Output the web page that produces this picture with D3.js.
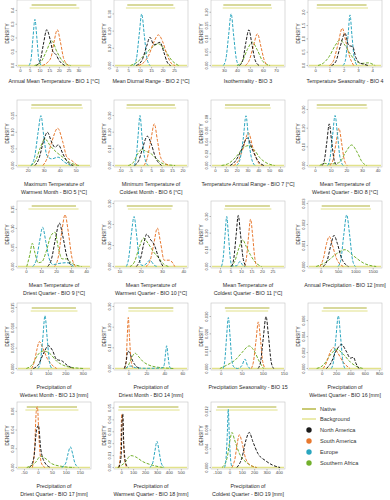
<!DOCTYPE html>
<html><head><meta charset="utf-8">
<script src="https://cdn.jsdelivr.net/npm/d3@7"></script>
<style>body{margin:0;background:#fff}svg{display:block}text{font-family:"Liberation Sans",Arial,sans-serif}</style>
</head><body><svg id="c" width="390" height="500"></svg>
<script>
const titles = [
 ["Annual Mean Temperature - BIO 1 [°C]"],
 ["Mean Diurnal Range - BIO 2 [°C]"],
 ["Isothermality - BIO 3"],
 ["Temperature Seasonality - BIO 4"],
 ["Maximum Temperature of","Warmest Month - BIO 5 [°C]"],
 ["Minimum Temperature of","Coldest Month - BIO 6 [°C]"],
 ["Temperature Annual Range - BIO 7 [°C]"],
 ["Mean Temperature of","Wettest Quarter - BIO 8 [°C]"],
 ["Mean Temperature of","Driest Quarter - BIO 9 [°C]"],
 ["Mean Temperature of","Warmest Quarter - BIO 10 [°C]"],
 ["Mean Temperature of","Coldest Quarter - BIO 11 [°C]"],
 ["Annual Precipitation - BIO 12 [mm]"],
 ["Precipitation of","Wettest Month - BIO 13 [mm]"],
 ["Precipitation of","Driest Month - BIO 14 [mm]"],
 ["Precipitation Seasonality - BIO 15"],
 ["Precipitation of","Wettest Quarter - BIO 16 [mm]"],
 ["Precipitation of","Driest Quarter - BIO 17 [mm]"],
 ["Precipitation of","Warmest Quarter - BIO 18 [mm]"],
 ["Precipitation of","Coldest Quarter - BIO 19 [mm]"]
];
const xDomains = [[-1.5,36.5],[-1.2,31.1],[20,77],[-0.5,4.68],[13.3,59.6],[-12.9,22.7],[-3.7,64.6],[-4.5,42.8],[-6,43.3],[7.5,42.2],[-4.3,31],[-366,1768],[-79,348],[-15.9,66.3],[-23,153],[-191,841],[-75,190],[-60,560],[-150,450]];
const xTicks = [[0,5,10,15,20,25,30],[0,5,10,15,20,25],[30,40,50,60,70],[0,1,2,3,4],[20,30,40,50],[-10,-5,0,5,10,15,20],[0,10,20,30,40,50,60],[0,10,20,30,40],[0,10,20,30,40],[10,20,30,40],[0,5,10,15,20,25],[0,500,1000,1500],[0,100,200,300],[0,20,40,60],[0,50,100,150],[0,200,400,600,800],[-50,0,50,100,150],[0,100,200,300,400,500],[-100,0,100,200,300,400]];
const yTops = [0.476,0.381,0.246,2.46,0.197,0.393,0.112,0.351,0.172,0.312,0.393,0.00312,0.0161,0.317,0.0378,0.0082,0.07,0.055,0.014];
const yTicks = [[0,0.1,0.2,0.3,0.4],[0,0.1,0.2,0.3],[0,0.05,0.1,0.15,0.2],[0,0.5,1,1.5,2],[0,0.05,0.1,0.15],[0,0.1,0.2,0.3],[0,0.02,0.04,0.06,0.08],[0,0.1,0.2,0.3],[0,0.05,0.1,0.15],[0,0.1,0.2,0.3],[0,0.1,0.2,0.3],[0,0.001,0.002,0.003],[0,0.005,0.01,0.015],[0,0.1,0.2,0.3],[0,0.01,0.02,0.03],[0,0.002,0.004,0.006],[0,0.02,0.04,0.06],[0,0.01,0.02,0.03,0.04,0.05],[0,0.004,0.008,0.012]];
const yDecimals = [1,2,2,1,2,2,2,2,2,2,2,3,3,2,3,3,2,2,3];
const nativeRanges = [[6,29],[4.6,24.7],[29.5,66.3],[0.12,3.6],[22.3,53.8],[-6.8,16.4],[9.2,50.8],[1.1,33],[3.8,33.3],[13.5,35],[2.4,23.8],[29,1422],[6,261],[0,50],[10,116],[23,628],[-40,140],[-20,480],[-100,380]];
const backgroundRanges = [[5,30.5],[4,25.5],[29,67],[0.1,3.7],[22,54.5],[-7,17],[9,51.5],[1,33.5],[1.6,35],[14,34.5],[2,24.5],[0,1450],[0,270],[0,50],[12,113],[0,640],[-45,145],[-25,490],[-110,390]];

const seriesNames = ["North America","South America","Europe","Southern Africa"];
const seriesColors = ["#1b1b1b","#e8782e","#2aa6bf","#72b02c"];
const nativeColor = "#b2b43a", backgroundColor = "#e2e28a";

const northAmerica = [
 [[8.5,0],[10.5,0.04],[12,0.15],[13.8,0.26],[15.5,0.19],[17,0.1],[18.5,0.08],[20,0.04],[23,0]],
 [[8.5,0],[11,0.03],[13,0.11],[14.5,0.164],[16.2,0.12],[18.9,0.135],[20.5,0.08],[22,0.02],[23.5,0]],
 [[42,0],[44.5,0.02],[46.8,0.085],[49.2,0.134],[51.5,0.08],[54,0.02],[57,0]],
 [[1.15,0],[1.45,0.15],[1.75,0.7],[2.09,1.21],[2.35,0.75],[2.63,0.71],[2.85,0.3],[3.1,0.1],[3.4,0.05],[3.7,0]],
 [[24.5,0],[27,0.02],[30,0.075],[32.3,0.1],[35,0.07],[37,0.055],[39.2,0.062],[42,0.035],[45,0.01],[48.5,0]],
 [[-3,0],[-1,0.03],[1,0.11],[3.1,0.176],[5,0.13],[7,0.05],[10,0]],
 [[14,0],[19,0.008],[24,0.025],[29.8,0.047],[35,0.025],[40,0.007],[45,0]],
 [[4.5,0],[6,0.03],[7.6,0.13],[9.1,0.223],[10.6,0.13],[12.2,0.03],[14,0]],
 [[14.5,0],[17,0.02],[19.5,0.07],[22.2,0.114],[24.5,0.08],[27,0.03],[30.5,0]],
 [[18,0],[20,0.04],[21.5,0.11],[22.8,0.154],[24.5,0.13],[26.5,0.1],[28.5,0.04],[30.5,0]],
 [[5.5,0],[6.6,0.05],[7.7,0.19],[8.7,0.306],[9.8,0.19],[11,0.05],[12.5,0]],
 [[70,0],[190,0.0003],[290,0.001],[384,0.00148],[480,0.0011],[600,0.0004],[800,0]],
 [[15,0],[45,0.001],[75,0.0038],[101.6,0.0056],[125,0.0045],[150,0.0022],[179,0.0019],[210,0.0008],[246,0]],
 [[-4.5,0],[-2.5,0.03],[-0.5,0.085],[2,0.07],[5,0.035],[9,0.01],[13,0]],
 [[89,0],[95,0.004],[101.5,0.018],[107.9,0.03],[114,0.018],[120,0.004],[126,0]],
 [[65,0],[130,0.0007],[200,0.0022],[279,0.003],[340,0.0022],[400,0.0013],[442,0.0014],[480,0.0006],[520,0]],
 [[-30,0],[-15,0.01],[-5,0.04],[2,0.045],[10,0.02],[25,0.005],[45,0]],
 [[-20,0],[0,0.01],[8,0.04],[14,0.045],[22,0.02],[40,0.003],[60,0]],
 [[60,0],[100,0.002],[135,0.006],[160,0.0075],[190,0.0055],[230,0.003],[290,0.0015],[350,0.0005],[410,0]]
];
const southAmerica = [
 [[11.5,0],[14,0.02],[16,0.06],[17.5,0.17],[19.2,0.26],[20.8,0.17],[22.5,0.05],[25,0]],
 [[9.5,0],[12,0.02],[14,0.06],[16,0.13],[18.2,0.178],[20,0.14],[22,0.06],[24,0.01],[25.5,0]],
 [[46.5,0],[49.5,0.02],[52.5,0.07],[55.8,0.119],[58.5,0.07],[61,0.02],[63.5,0]],
 [[1.0,0],[1.3,0.2],[1.6,0.8],[1.9,1.4],[2.15,0.9],[2.4,0.35],[2.7,0]],
 [[29.5,0],[32,0.02],[35,0.07],[38.75,0.112],[42,0.07],[44.5,0.025],[47.5,0.015],[51,0]],
 [[1.5,0],[3,0.04],[4.8,0.15],[6.5,0.25],[8,0.15],[9.5,0.05],[11.5,0.015],[14,0]],
 [[17,0],[21.5,0.008],[26,0.03],[30.8,0.056],[35,0.03],[39,0.008],[43,0]],
 [[9.5,0],[11.5,0.03],[13.4,0.12],[15.3,0.2],[17,0.12],[18.7,0.03],[20.5,0]],
 [[19,0],[21.5,0.025],[23.8,0.09],[26,0.136],[28.2,0.09],[30.5,0.025],[33,0]],
 [[22.5,0],[24.5,0.03],[26.2,0.11],[27.8,0.183],[29.4,0.11],[31,0.03],[33.5,0.03],[36,0]],
 [[11.7,0],[12.6,0.05],[13.6,0.18],[14.6,0.284],[15.6,0.18],[16.6,0.05],[17.6,0]],
 [[-20,0],[80,0.0004],[170,0.0011],[249,0.00143],[340,0.001],[450,0.0004],[650,0]],
 [[5,0],[20,0.0015],[35,0.0045],[50,0.0066],[70,0.005],[95,0.0025],[120,0.001],[150,0]],
 [[-4,0],[-2.5,0.03],[-1.2,0.15],[0,0.247],[1.2,0.16],[2.8,0.05],[4.5,0.01],[6,0]],
 [[73,0],[78,0.004],[84,0.016],[89.6,0.0269],[95,0.016],[100,0.004],[106,0]],
 [[20,0],[70,0.0008],[120,0.0021],[163,0.0026],[220,0.002],[300,0.0008],[395,0]],
 [[-20,0],[-12,0.02],[-6,0.06],[-2,0.065],[4,0.03],[12,0.005],[25,0]],
 [[-20,0],[-5,0.015],[5,0.045],[12,0.04],[25,0.01],[45,0]],
 [[20,0],[45,0.002],[65,0.0055],[80,0.007],[100,0.0055],[130,0.002],[170,0.0005],[220,0]]
];
const europe = [
 [[4.7,0],[5.7,0.045],[6.7,0.2],[7.7,0.335],[8.7,0.2],[9.7,0.045],[11,0]],
 [[7.4,0],[8.6,0.04],[9.8,0.18],[10.9,0.3],[12,0.18],[13.2,0.04],[14.5,0]],
 [[29.5,0],[31.5,0.025],[33.5,0.11],[35.5,0.194],[37.5,0.11],[39.5,0.025],[41.5,0]],
 [[1.95,0],[2.12,0.2],[2.3,1.1],[2.44,1.9],[2.58,1.1],[2.75,0.25],[2.95,0]],
 [[22,0],[24.5,0.03],[26.5,0.1],[28.3,0.15],[30,0.09],[32,0.03],[35,0.02],[39,0.025],[43,0.01],[47,0]],
 [[-3.2,0],[-2.2,0.05],[-1.3,0.18],[-0.4,0.3],[0.6,0.17],[1.8,0.05],[3.5,0]],
 [[20,0],[23,0.01],[26,0.045],[28.6,0.085],[31,0.045],[34,0.01],[37,0]],
 [[8,0],[9.6,0.04],[11.2,0.16],[12.8,0.268],[14.4,0.16],[16,0.04],[18,0]],
 [[4.5,0],[7,0.02],[9,0.065],[11.1,0.103],[13.2,0.065],[15.5,0.02],[18,0.005],[22,0.008],[27,0.01],[32,0]],
 [[13.3,0],[14.4,0.04],[15.6,0.15],[16.9,0.238],[18.1,0.15],[19.3,0.04],[20.6,0.005],[22,0.008],[24.3,0.03],[26.5,0.005],[28,0]],
 [[0.7,0],[1.5,0.05],[2.4,0.19],[3.2,0.3],[4,0.19],[4.9,0.05],[5.7,0.003],[8,0.005],[9.5,0.03],[11,0.005],[12,0]],
 [[500,0],[580,0.0003],[665,0.0015],[750,0.00246],[835,0.0015],[920,0.0003],[1000,0]],
 [[42,0],[55,0.0015],[69,0.007],[82.5,0.013],[96,0.007],[109,0.0015],[122,0]],
 [[-3,0],[2,0.012],[8,0.004],[20,0.001],[36,0.002],[38.5,0.005],[40,0.02],[41.3,0.07],[42.6,0.11],[43.9,0.07],[45.3,0.02],[47,0]],
 [[6,0],[10,0.005],[14,0.018],[18.3,0.0294],[22.5,0.018],[26.5,0.005],[31,0.001],[40,0],[50,0.0015],[57.9,0.0054],[64,0.0015],[70,0]],
 [[135,0],[165,0.0009],[198,0.0038],[232,0.0066],[265,0.0038],[295,0.0009],[325,0]],
 [[85,0],[100,0.005],[108,0.015],[116,0.022],[124,0.015],[132,0.005],[145,0]],
 [[240,0],[265,0.004],[283,0.014],[300,0.022],[317,0.014],[335,0.004],[360,0]],
 [[-40,0],[-28,0.002],[-18,0.007],[-10,0.0125],[-2,0.007],[8,0.002],[20,0]]
];
const southernAfrica = [
 [[7.5,0],[10.5,0.02],[13.5,0.1],[16.3,0.18],[19,0.1],[22,0.03],[26,0]],
 [[6,0],[9,0.02],[12,0.06],[15,0.1],[18.2,0.126],[21,0.09],[24,0.03],[27,0]],
 [[40,0],[44,0.015],[48,0.06],[51.8,0.0875],[55.5,0.06],[60,0.015],[65.5,0]],
 [[0.2,0],[0.6,0.1],[1.0,0.35],[1.4,0.75],[1.74,0.96],[2.1,0.75],[2.5,0.4],[2.9,0.15],[3.3,0.08],[3.7,0.1],[4.2,0]],
 [[22,0],[25,0.015],[28,0.055],[30.8,0.08],[34,0.06],[38,0.04],[42,0.025],[46,0.01],[52,0]],
 [[-6,0],[-3.5,0.02],[-1.5,0.07],[0.4,0.096],[2.5,0.085],[5,0.07],[7.5,0.04],[10,0.015],[13,0.005],[16.5,0]],
 [[6,0],[13,0.004],[20,0.016],[26,0.03],[30.8,0.034],[36,0.027],[42,0.012],[48,0.004],[55,0]],
 [[3,0],[6,0.012],[9,0.008],[13,0.01],[16,0.02],[19.5,0.07],[23.4,0.11],[27,0.07],[30,0.02],[33,0]],
 [[0.5,0],[2.5,0.03],[4.2,0.061],[6,0.035],[8,0.01],[10.5,0.012],[13.5,0.04],[16.5,0.08],[19.3,0.09],[21.5,0.05],[24,0.02],[27,0.02],[30,0.01],[37,0]],
 [[15,0],[17,0.02],[19.3,0.09],[21.3,0.135],[23.5,0.11],[26,0.07],[28.5,0.04],[31,0.01],[33,0]],
 [[4.8,0],[7,0.03],[9,0.11],[10.8,0.16],[12.5,0.12],[14.5,0.07],[16.5,0.03],[19.8,0]],
 [[-130,0],[150,0.0002],[450,0.0006],[702,0.0008],[950,0.0005],[1250,0.00015],[1600,0]],
 [[-25,0],[10,0.001],[40,0.0033],[73,0.0043],[110,0.0037],[150,0.0018],[200,0.0006],[250,0.0002],[305,0]],
 [[-3,0],[0,0.015],[4,0.055],[7.4,0.074],[11,0.06],[16,0.035],[22,0.018],[30,0.008],[40,0.003],[50,0]],
 [[-2,0],[15,0.002],[35,0.005],[50,0.009],[68,0.013],[80,0.01],[92,0.004],[102,0]],
 [[-70,0],[30,0.0005],[120,0.0017],[209,0.0024],[300,0.0018],[400,0.0008],[500,0.0002],[580,0]],
 [[-40,0],[-10,0.005],[10,0.012],[25,0.01],[50,0.004],[90,0.001],[130,0]],
 [[-30,0],[30,0.004],[80,0.01],[120,0.009],[180,0.005],[260,0.002],[350,0]],
 [[-60,0],[-20,0.002],[5,0.006],[20,0.0075],[40,0.006],[80,0.003],[140,0.001],[220,0]]
];
const seriesData = [northAmerica, southAmerica, europe, southernAfrica];

const colLeft = [17,114,211,308], plotW = 74, plotH = 67;
const rowBottom = [67,167,268,370,469];

const svg = d3.select("#c");
const line = d3.line().curve(d3.curveMonotoneX);

titles.forEach((t,i)=>{
  const c=i%4, r=Math.floor(i/4);
  const L=colLeft[c], B=rowBottom[r], T=B-plotH;
  const x=d3.scaleLinear().domain(xDomains[i]).range([L,L+plotW]);
  const y=d3.scaleLinear().domain([0,yTops[i]]).range([B-1.5,T]);
  const g=svg.append("g");
  g.append("rect").attr("x",L).attr("y",T).attr("width",plotW).attr("height",plotH)
    .attr("fill","none").attr("stroke","#c2c2c2").attr("stroke-width",0.6);
  g.append("path").attr("d",line([[x(xDomains[i][0])+1,y(0)],[x(xDomains[i][1])-1,y(0)]]))
    .attr("stroke",backgroundColor).attr("stroke-width",1.5).attr("fill","none");
  g.append("line").attr("x1",x(nativeRanges[i][0])).attr("x2",x(nativeRanges[i][1]))
    .attr("y1",T+5).attr("y2",T+5).attr("stroke",nativeColor).attr("stroke-width",1.2);
  g.append("line").attr("x1",x(backgroundRanges[i][0])).attr("x2",x(backgroundRanges[i][1]))
    .attr("y1",T+8).attr("y2",T+8).attr("stroke",backgroundColor).attr("stroke-width",1.2);
  [3,1,2,0].forEach(s=>{
    g.append("path").attr("d",line(seriesData[s][i].map(p=>[x(p[0]),y(p[1])])))
      .attr("fill","none").attr("stroke",seriesColors[s]).attr("stroke-width",1)
      .attr("stroke-dasharray","3,1.5");
  });
  const xa=g.append("g").attr("transform",`translate(0,${B})`)
    .call(d3.axisBottom(x).tickValues(xTicks[i]).tickSize(1.5).tickFormat(d=>String(d)));
  xa.select(".domain").remove();
  xa.selectAll("line").attr("stroke","#777").attr("stroke-width",0.5);
  xa.selectAll("text").attr("font-size",4.3).attr("fill","#444").attr("y",2.2).attr("font-family","Liberation Sans, Arial, sans-serif");
  yTicks[i].forEach(v=>{
    g.append("line").attr("x1",L-1.5).attr("x2",L).attr("y1",y(v)).attr("y2",y(v)).attr("stroke","#777").attr("stroke-width",0.5);
    g.append("text").attr("transform",`translate(${L-2.6},${y(v)}) rotate(-90)`)
      .attr("text-anchor","middle").attr("font-size",4.1).attr("fill","#444").text(v.toFixed(yDecimals[i]));
  });
  g.append("text").attr("transform",`translate(${L-8.5},${(T+B)/2}) rotate(-90)`)
    .attr("text-anchor","middle").attr("font-size",4.6).attr("fill","#333").text("DENSITY");
  const first = B + (r===0 ? 15.8 : 19.3);
  t.forEach((s,k)=>{
    g.append("text").attr("x",L+plotW/2).attr("y",first+k*7.2).attr("text-anchor","middle")
      .attr("font-size",5.3).attr("fill","#2a2a2a").text(s);
  });
});

const legendY = [409,419,430,441,452,463];
const lg = svg.append("g");
const legendItems = [{n:"Native",t:"line",c:nativeColor},{n:"Background",t:"line",c:backgroundColor}]
  .concat(seriesNames.map((n,k)=>({n,t:"dot",c:seriesColors[k]})));
legendItems.forEach((it,k)=>{
  const yy=legendY[k];
  if(it.t==="line") lg.append("line").attr("x1",302).attr("x2",316).attr("y1",yy).attr("y2",yy).attr("stroke",it.c).attr("stroke-width",1.4);
  else lg.append("circle").attr("cx",309).attr("cy",yy).attr("r",2.7).attr("fill",it.c);
  lg.append("text").attr("x",320).attr("y",yy+2).attr("font-size",5.6).attr("fill","#333").text(it.n);
});
</script></body></html>
